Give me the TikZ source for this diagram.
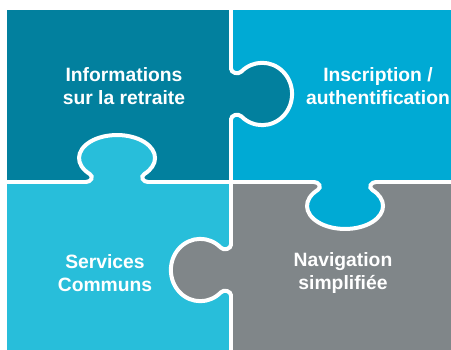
\documentclass[tikz,border=0pt]{standalone}
\usepackage{fontspec}
\setmainfont{Liberation Sans}

\definecolor{darkteal}{RGB}{2,128,158}
\definecolor{brightblue}{RGB}{0,170,212}
\definecolor{lightcyan}{RGB}{40,190,218}
\definecolor{slategray}{RGB}{128,134,137}

\tikzset{
	every node/.style={align=center,text=white,font=\bfseries\fontsize{19.3}{23.5}\selectfont},
	seam/.style={draw=white,line width=4pt,line cap=round},
}

% one knob, edge along x, bulging towards +y
\newcommand{\knob}{(-31,0) .. controls (-26,0) and (-23,5.4) .. (-27.3,8) arc[start angle=224,end angle=-44,x radius=38,y radius=23] .. controls (23,5.4) and (26,0) .. (31,0)}

\begin{document}
\begin{tikzpicture}[x=1pt,y=-1pt]
	\useasboundingbox (0,0) rectangle (451,350);
	\fill[white] (0,0) rectangle (451,350);

	% pieces.....................
	\fill[darkteal] (7,10) rectangle (231,182);
	\fill[brightblue] (231,10) rectangle (451,182);
	\fill[lightcyan] (7,182) rectangle (231,350);
	\fill[slategray] (231,182) rectangle (451,350);

	% knob: top left into top right..........
	\begin{scope}[shift={(231,94)},rotate=90,xscale=0.82,yscale=1.3]
		\fill[darkteal] \knob -- (31,-2) -- (-31,-2) -- cycle;
		\draw[seam] \knob;
		\coordinate (k1a) at (-31,0);
		\coordinate (k1b) at (31,0);
	\end{scope}

	% knob: bottom left into top left..........
	\begin{scope}[shift={(117,182)},yscale=-1]
		\fill[lightcyan] \knob -- (31,-2) -- (-31,-2) -- cycle;
		\draw[seam] \knob;
		\coordinate (k2a) at (-31,0);
		\coordinate (k2b) at (31,0);
	\end{scope}

	% knob: top right into bottom right..........
	\begin{scope}[shift={(345,182)}]
		\fill[brightblue] \knob -- (31,-2) -- (-31,-2) -- cycle;
		\draw[seam] \knob;
		\coordinate (k3a) at (-31,0);
		\coordinate (k3b) at (31,0);
	\end{scope}

	% knob: bottom right into bottom left..........
	\begin{scope}[shift={(231,270)},rotate=-90,xscale=0.82,yscale=1.28]
		\fill[slategray] \knob -- (31,-2) -- (-31,-2) -- cycle;
		\draw[seam] \knob;
		\coordinate (k4a) at (-31,0);
		\coordinate (k4b) at (31,0);
	\end{scope}

	% straight seams..............
	\draw[seam] (231,10) -- (k1b);
	\draw[seam] (k1a) -- (k4a);
	\draw[seam] (k4b) -- (231,350);
	\draw[seam] (7,182) -- (k2a);
	\draw[seam] (k2b) -- (k3a);
	\draw[seam] (k3b) -- (451,182);

	% labels.....................
	\node (info) at (124,86) {Informations\\sur la retraite};
	\node (inscr) at (378,86) {Inscription /\\authentification};
	\node (services) at (105,273) {Services\\Communs};
	\node (nav) at (343,273) {Navigation\\simplifiée};
\end{tikzpicture}
\end{document}
